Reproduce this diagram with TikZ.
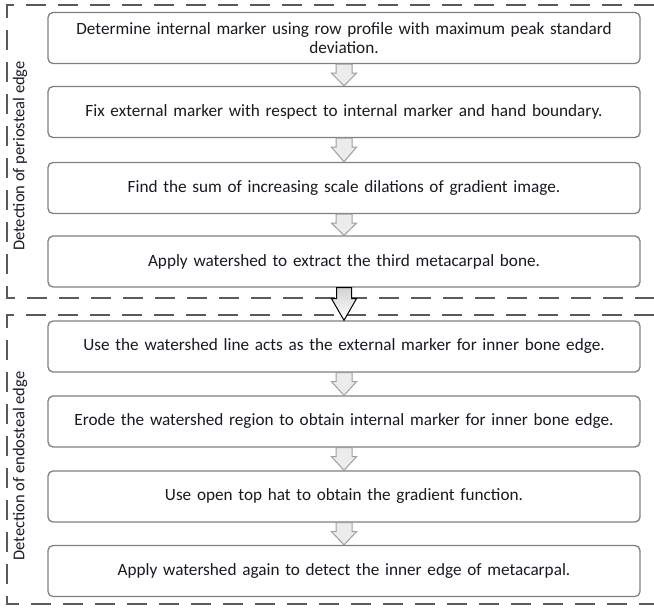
\documentclass[tikz,border=0pt]{standalone}
\usepackage{fontspec}
\setmainfont{Carlito}
\usetikzlibrary{calc}
\definecolor{boxline}{RGB}{128,128,128}
\definecolor{dashline}{RGB}{90,90,90}
\definecolor{txt}{RGB}{25,25,35}
\tikzset{
  stepbox/.style={draw=boxline, line width=1.3pt, rounded corners=5pt, fill=white,
    minimum width=592pt, minimum height=51pt, align=center, text width=580pt,
    font=\fontsize{17.2}{19.5}\selectfont, text=txt},
  grp/.style={draw=dashline, line width=1.8pt, dash pattern=on 20pt off 12pt},
  sidelabel/.style={rotate=90, font=\fontsize{16.5}{19}\selectfont, text=txt},
  smallarr/.style={draw=gray!75, line width=1pt, fill=gray!15},
  bigarr/.style={draw=black, line width=1pt, top color=gray!35, bottom color=white}
}
\newcommand{\blockarr}[2]{%
  \path[smallarr] let \p1=(#1.south), \p2=(#2.north) in
    (\x1-8pt,\y1) -- (\x1+8pt,\y1) -- (\x1+8pt,\y1-9pt) -- (\x1+12.5pt,\y1-9pt)
    -- (\x1,\y2) -- (\x1-12.5pt,\y1-9pt) -- (\x1-8pt,\y1-9pt) -- cycle;}
\begin{document}
\begin{tikzpicture}[x=1pt,y=-1pt]
\useasboundingbox (0,0) rectangle (654,608);
% group frames
\draw[grp] (654,5) -- (7,5) -- (7,298) -- (654,298);
\draw[grp] (654,315) -- (7,315) -- (7,604) -- (654,604);
% side labels
\node[sidelabel] (l1) at (20,156) {Detection of periosteal edge};
\node[sidelabel] (l2) at (20,466) {Detection of endosteal edge};
% steps
\node[stepbox] (b1) at (344,38) {Determine internal marker using row profile with maximum peak standard\\deviation.};
\node[stepbox] (b2) at (344,112) {Fix external marker with respect to internal marker and hand boundary.};
\node[stepbox] (b3) at (344,188) {Find the sum of increasing scale dilations of gradient image.};
\node[stepbox] (b4) at (344,261.5) {Apply watershed to extract the third metacarpal bone.};
\node[stepbox] (b5) at (344,346.5) {Use the watershed line acts as the external marker for inner bone edge.};
\node[stepbox] (b6) at (344,421.5) {Erode the watershed region to obtain internal marker for inner bone edge.};
\node[stepbox] (b7) at (344,496.5) {Use open top hat to obtain the gradient function.};
\node[stepbox] (b8) at (344,571) {Apply watershed again to detect the inner edge of metacarpal.};
% arrows
\blockarr{b1}{b2}
\blockarr{b2}{b3}
\blockarr{b3}{b4}
\blockarr{b5}{b6}
\blockarr{b6}{b7}
\blockarr{b7}{b8}
\path[bigarr] let \p1=(b4.south), \p2=(b5.north) in
    (\x1-7.5pt,\y1) -- (\x1+7.5pt,\y1) -- (\x1+7.5pt,\y1-11pt) -- (\x1+12.5pt,\y1-11pt)
    -- (\x1,\y2) -- (\x1-12.5pt,\y1-11pt) -- (\x1-7.5pt,\y1-11pt) -- cycle;
\end{tikzpicture}
\end{document}
